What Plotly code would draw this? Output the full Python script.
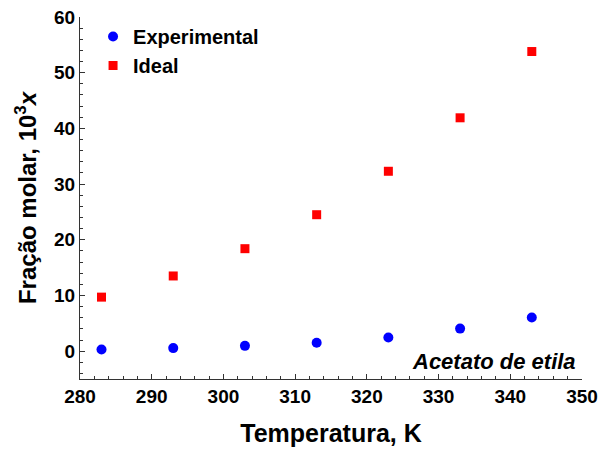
import plotly.graph_objects as go

temperature = [283, 293, 303, 313, 323, 333, 343]
experimental = [0.3, 0.55, 0.95, 1.5, 2.45, 4.05, 6.05]
ideal = [9.7, 13.5, 18.4, 24.5, 32.3, 41.9, 53.8]

x_ticks = [280, 290, 300, 310, 320, 330, 340, 350]
y_ticks = [0, 10, 20, 30, 40, 50, 60]

FONT = "Liberation Sans, Arial, sans-serif"

fig = go.Figure()
fig.add_trace(go.Scatter(
    x=temperature, y=experimental, mode="markers", name="Experimental",
    marker=dict(symbol="circle", size=10, color="#0000ff", line=dict(width=0)),
))
fig.add_trace(go.Scatter(
    x=temperature, y=ideal, mode="markers", name="Ideal",
    marker=dict(symbol="square", size=9, color="#ff0000", line=dict(width=0)),
))

axis_common = dict(
    showline=True, linecolor="#333333", linewidth=1, mirror=False,
    showgrid=False, zeroline=False, automargin=False,
    ticks="inside", ticklen=5, tickwidth=1, tickcolor="#333333",
    tickfont=dict(family=FONT, size=19, color="black", weight="bold"),
)

fig.update_xaxes(
    range=[280, 350], tickvals=x_ticks,
    minor=dict(dtick=2, ticks="inside", ticklen=3, tickcolor="#333333", showgrid=False),
    title=dict(text="<b>Temperatura, K</b>", font=dict(family=FONT, size=25, color="black"), standoff=18),
    **axis_common,
)
fig.update_yaxes(
    range=[-5, 60], tickvals=y_ticks,
    minor=dict(dtick=2, ticks="inside", ticklen=3, tickcolor="#333333", showgrid=False),
    title=dict(text="<b>Fração molar, 10<sup>3</sup><i>x</i></b>", font=dict(family=FONT, size=24, color="black"), standoff=10),
    **axis_common,
)

fig.add_annotation(
    text="<b><i>Acetato de etila</i></b>", xref="paper", yref="paper",
    x=0.993, y=0.008, xanchor="right", yanchor="bottom", showarrow=False,
    font=dict(family=FONT, size=22, color="black"),
)

fig.update_layout(
    width=601, height=456,
    margin=dict(l=80, r=19, t=17, b=77),
    plot_bgcolor="white", paper_bgcolor="white",
    showlegend=True,
    legend=dict(
        x=0.026, y=1.0, xanchor="left", yanchor="top",
        bgcolor="rgba(0,0,0,0)",
        font=dict(family=FONT, size=20, color="black", weight="bold"),
        itemwidth=30, tracegroupgap=0,
    ),
)

fig.write_html("out.html")
